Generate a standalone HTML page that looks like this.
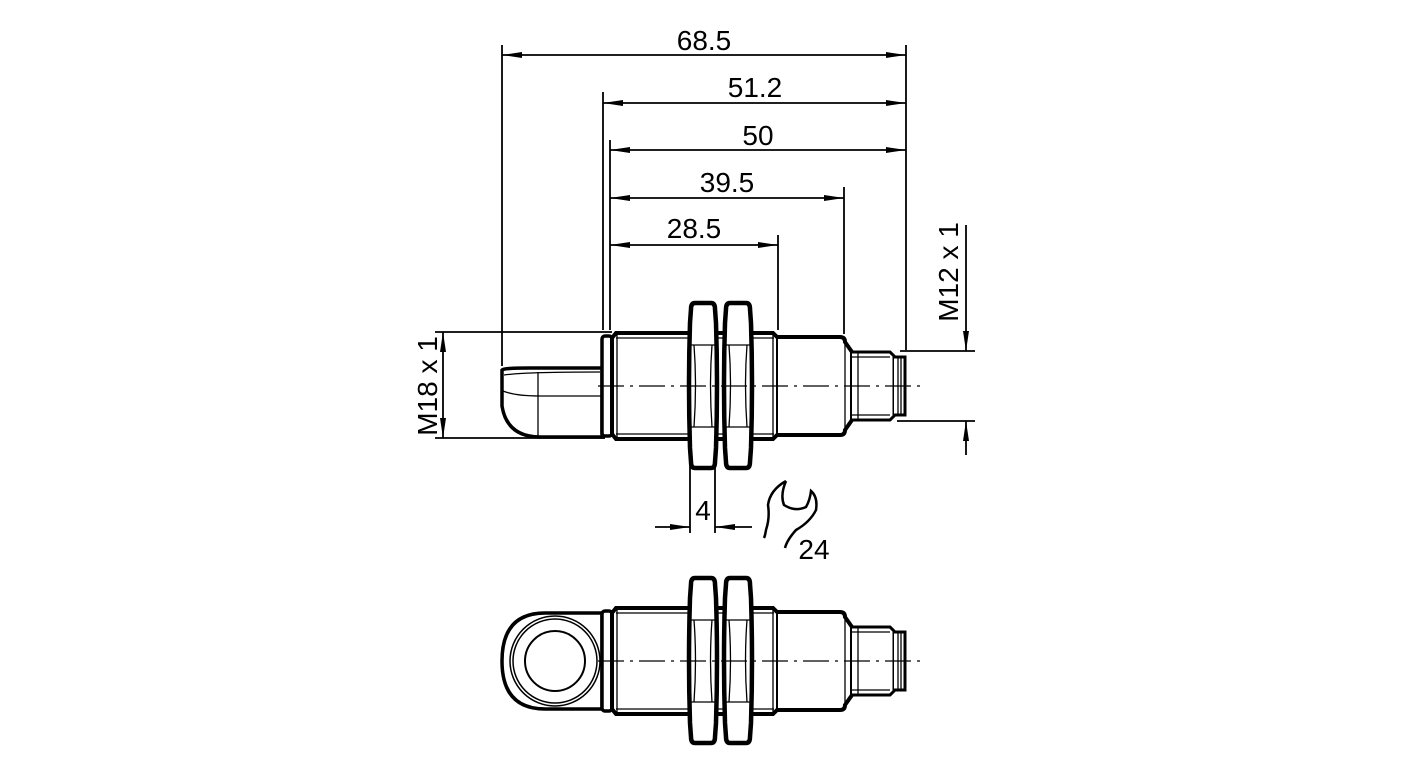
<!DOCTYPE html>
<html><head><meta charset="utf-8"><style>
html,body{margin:0;padding:0;background:#fff;}
svg{display:block;}
text{font-family:"Liberation Sans",Arial,sans-serif;fill:#000;}
</style></head><body>
<svg width="1418" height="780" viewBox="0 0 1418 780" xmlns="http://www.w3.org/2000/svg">
<defs>
<marker id="a" viewBox="0 0 20 6" refX="20" refY="3" markerWidth="20" markerHeight="6" markerUnits="userSpaceOnUse" orient="auto-start-reverse"><path d="M0,0 L20,3 L0,6 Z" fill="#000"/></marker>
<g id="nut">
<path d="M5,0 H21 Q25,0 25,6 L26,20 Q28,82 26,145 L25,159 Q25,165 21,165 H5 Q1,165 1,159 L0,145 Q-2,82 0,20 L1,6 Q1,0 5,0 Z" fill="#fff" stroke="#000" stroke-width="4.5"/>
<path d="M1,42 H25 M1,124 H25 M4,42 Q7,82 4,124 M22,42 Q19,82 22,124" fill="none" stroke="#000" stroke-width="1.3"/>
</g>
<g id="body">
<rect x="602" y="-50" width="10" height="100" rx="3" fill="#fff" stroke="#000" stroke-width="3.5"/>
<path d="M612,-48 L616,-53 H773 L778,-48 V48 L773,53 H616 L612,48 Z" fill="#fff" stroke="#000" stroke-width="4"/>
<path d="M616,-48 H774 M616,48 H774 M617,-52 V52 M773,-52 V52" fill="none" stroke="#000" stroke-width="1.3"/>
<path d="M778,-49 H840 Q845,-49 845,-44 L852,-34 V34 L845,44 Q845,49 840,49 H778" fill="#fff" stroke="#000" stroke-width="4"/>
<path d="M845,-44 V44" stroke="#000" stroke-width="1.3"/>
<path d="M852,-34 H890 L894,-30 V30 L890,34 H852" fill="#fff" stroke="#000" stroke-width="3"/>
<path d="M858,-34 V34 M852,-29 H890 M852,29 H890" fill="none" stroke="#000" stroke-width="1.3"/>
<path d="M894,-29 H905 V29 H894" fill="#fff" stroke="#000" stroke-width="3"/>
<path d="M898,-29 V29 M901,-29 V29" fill="none" stroke="#000" stroke-width="1.3"/>
<use href="#nut" x="690" y="-83"/>
<use href="#nut" x="725" y="-83"/>
<line x1="598" y1="0" x2="920" y2="0" stroke="#000" stroke-width="1.3" stroke-dasharray="26,6,3,6"/>
</g>
</defs>

<g stroke="#000" stroke-width="1.8" fill="none">
<line x1="502" y1="45" x2="502" y2="366"/>
<line x1="906" y1="45" x2="906" y2="350"/>
<line x1="603" y1="92" x2="603" y2="330"/>
<line x1="610" y1="140" x2="610" y2="330"/>
<line x1="844" y1="187" x2="844" y2="334"/>
<line x1="778" y1="235" x2="778" y2="330"/>
<line x1="502" y1="55" x2="906" y2="55" marker-start="url(#a)" marker-end="url(#a)"/>
<line x1="603" y1="103" x2="906" y2="103" marker-start="url(#a)" marker-end="url(#a)"/>
<line x1="610" y1="150" x2="906" y2="150" marker-start="url(#a)" marker-end="url(#a)"/>
<line x1="610" y1="198" x2="844" y2="198" marker-start="url(#a)" marker-end="url(#a)"/>
<line x1="610" y1="245" x2="778" y2="245" marker-start="url(#a)" marker-end="url(#a)"/>
<line x1="435" y1="332" x2="612" y2="332"/>
<line x1="435" y1="438" x2="605" y2="438"/>
<line x1="443" y1="332" x2="443" y2="438" marker-start="url(#a)" marker-end="url(#a)"/>
<line x1="900" y1="351" x2="975" y2="351"/>
<line x1="897" y1="421" x2="975" y2="421"/>
<line x1="966" y1="225" x2="966" y2="351" marker-end="url(#a)"/>
<line x1="966" y1="455" x2="966" y2="421" marker-end="url(#a)"/>
<line x1="690" y1="465" x2="690" y2="533"/>
<line x1="715" y1="465" x2="715" y2="533"/>
<line x1="655" y1="527" x2="690" y2="527" marker-end="url(#a)"/>
<line x1="752" y1="527" x2="715" y2="527" marker-end="url(#a)"/>
</g>

<g font-size="28">
<text x="704" y="50" text-anchor="middle">68.5</text>
<text x="755" y="97" text-anchor="middle">51.2</text>
<text x="758" y="145" text-anchor="middle">50</text>
<text x="727" y="192" text-anchor="middle">39.5</text>
<text x="694" y="238" text-anchor="middle">28.5</text>
<text x="703" y="520" text-anchor="middle">4</text>
<text x="814" y="559" text-anchor="middle">24</text>
<text transform="translate(437,386) rotate(-90)" text-anchor="middle">M18 x 1</text>
<text transform="translate(958,272) rotate(-90)" text-anchor="middle">M12 x 1</text>
</g>

<path d="M786,481 Q770,490 768,505 Q770,518 766,530 Q765,536 764,538 M786,481 Q780,495 784,505 Q795,512 806,507 Q810,500 811,491 Q818,497 816,510 Q810,522 796,530 Q787,540 785,548" fill="none" stroke="#000" stroke-width="2.5"/>

<g transform="translate(0,386)">
<path d="M502,-16 Q503,-18 530,-18 H602 V51 H540 Q507,51 502,20 Z" fill="#fff" stroke="#000" stroke-width="3.5"/>
<path d="M504,-11 Q525,-14 600,-14 M503,5 Q515,10 540,10 H602 M538,-14 V51" fill="none" stroke="#000" stroke-width="1.3"/>
<use href="#body"/>
</g>

<g transform="translate(0,661)">
<path d="M545,-48 H602 V48 H545 Q502,48 502,0 Q502,-48 545,-48 Z" fill="#fff" stroke="#000" stroke-width="3.5"/>
<circle cx="555" cy="0" r="45" fill="none" stroke="#000" stroke-width="1.5"/>
<circle cx="555" cy="0" r="42" fill="none" stroke="#000" stroke-width="1.5"/>
<circle cx="555" cy="0" r="30" fill="none" stroke="#000" stroke-width="2"/>
<use href="#body"/>
</g>
</svg>
</body></html>
